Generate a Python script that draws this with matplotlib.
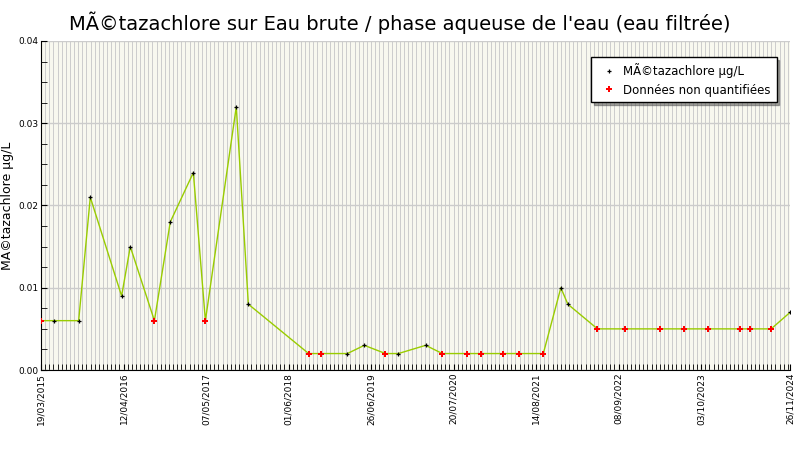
import matplotlib
matplotlib.use("Agg")
import matplotlib.pyplot as plt
import numpy as np
from datetime import datetime, timedelta

# sample dates, values (µg/L) and whether quantified
dates = [
    "2015-03-19", "2015-05-21", "2015-09-13", "2015-11-07", "2016-04-03", "2016-05-14",
    "2016-09-05", "2016-11-19", "2017-03-08", "2017-05-04", "2017-09-27", "2017-11-23",
    "2018-09-04", "2018-11-03", "2019-03-06", "2019-05-25", "2019-09-02", "2019-11-02",
    "2020-03-10", "2020-05-28", "2020-09-23", "2020-11-28", "2021-03-09", "2021-05-27",
    "2021-09-17", "2021-12-09", "2022-01-11", "2022-05-31", "2022-10-10", "2023-03-23",
    "2023-07-16", "2023-11-06", "2024-04-06", "2024-05-23", "2024-08-29", "2024-11-26",
]
values = [
    0.006, 0.006, 0.006, 0.021, 0.009, 0.015,
    0.006, 0.018, 0.024, 0.006, 0.032, 0.008,
    0.002, 0.002, 0.002, 0.003, 0.002, 0.002,
    0.003, 0.002, 0.002, 0.002, 0.002, 0.002,
    0.002, 0.010, 0.008, 0.005, 0.005, 0.005,
    0.005, 0.005, 0.005, 0.005, 0.005, 0.007,
]
non_quantified = [
    1, 0, 0, 0, 0, 0,
    1, 0, 0, 1, 0, 0,
    1, 1, 0, 0, 1, 0,
    0, 1, 1, 1, 1, 1,
    1, 0, 0, 1, 1, 1,
    1, 1, 1, 1, 1, 0,
]
tick_labels = ["19/03/2015", "12/04/2016", "07/05/2017", "01/06/2018", "26/06/2019",
               "20/07/2020", "14/08/2021", "08/09/2022", "03/10/2023", "26/11/2024"]

x = np.array([datetime.strptime(d, "%Y-%m-%d") for d in dates])
y = np.array(values)
nq = np.array(non_quantified, dtype=bool)

plt.rcParams["font.family"] = "DejaVu Sans"
fig = plt.figure(figsize=(8, 4.5), dpi=100)
ax = fig.add_axes([41 / 800, 80 / 450, 749 / 800, 329 / 450])
ax.set_facecolor("#f8f8ef")

start, end = x[0], x[-1]
ax.set_xlim(start, end)
ax.set_ylim(0, 0.04)

tick_pos = [datetime.strptime(t, "%d/%m/%Y") for t in tick_labels]
ax.set_xticks(tick_pos)
ax.set_xticklabels(tick_labels, rotation=90, fontsize=6.5)
minor = [start + timedelta(days=19.5 * i) for i in range(int((end - start).days / 19.5) + 1)]
ax.set_xticks(minor, minor=True)
ax.set_yticks([0, 0.01, 0.02, 0.03, 0.04])
ax.set_yticklabels(["0.00", "0.01", "0.02", "0.03", "0.04"], fontsize=6.5)
ax.set_yticks(np.arange(0, 0.0401, 0.0025), minor=True)
ax.grid(True, which="both", axis="x", color="#cccccc", linewidth=0.7)
ax.grid(True, which="major", axis="y", color="#cccccc", linewidth=1)
ax.tick_params(which="both", direction="in", length=4, pad=2)
ax.set_axisbelow(True)
for s in ["top", "right"]:
    ax.spines[s].set_visible(False)

ax.plot(x, y, color="#99cc00", linewidth=1, zorder=2)
ax.plot(x[~nq], y[~nq], "+", color="black", markersize=3.5, markeredgewidth=0.9,
        linestyle="none", zorder=3, label="MÃ©tazachlore µg/L")
ax.plot(x[nq], y[nq], "P", color="red", markersize=5, markeredgewidth=0,
        linestyle="none", zorder=3, label="Données non quantifiées")

ax.set_ylabel("MÃ©tazachlore µg/L", fontsize=9, labelpad=3)
fig.suptitle("MÃ©tazachlore sur Eau brute / phase aqueuse de l'eau (eau filtrée)",
             fontsize=14, y=0.975)
ax.legend(loc="upper right", fontsize=8.5, fancybox=False, shadow=True,
          framealpha=1, edgecolor="black", bbox_to_anchor=(0.99, 0.97),
          handletextpad=0.2, borderpad=0.5)

fig.savefig("out.png", dpi=100)
